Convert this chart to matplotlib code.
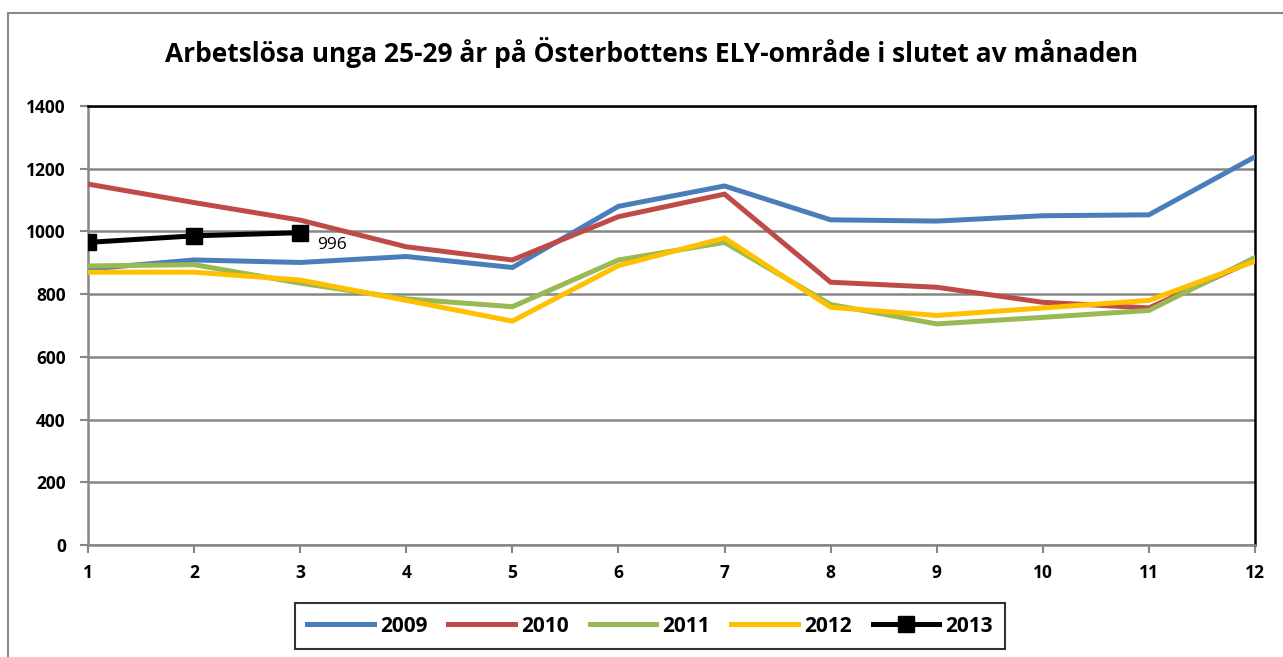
import matplotlib
matplotlib.use("Agg")
import matplotlib.pyplot as plt
from matplotlib.patches import Rectangle

months = list(range(1, 13))
s2009 = [880, 909, 901, 920, 885, 1080, 1145, 1037, 1033, 1050, 1053, 1238]
s2010 = [1151, 1092, 1036, 951, 909, 1047, 1119, 838, 822, 774, 756, 910]
s2011 = [890, 894, 835, 785, 760, 909, 965, 767, 705, 726, 748, 917]
s2012 = [870, 870, 845, 780, 714, 891, 979, 758, 732, 756, 780, 905]
s2013 = [965, 986, 996]
years = ["2009", "2010", "2011", "2012", "2013"]
colors = ["#4A7EBB", "#BE4B48", "#98B954", "#FFC000", "#000000"]
yticks = [0, 200, 400, 600, 800, 1000, 1200, 1400]

plt.rcParams['font.family'] = ['Open Sans', 'DejaVu Sans']

W, H = 1283, 657
fig = plt.figure(figsize=(W / 100, H / 100), dpi=100)
fig.patch.set_facecolor("white")

# outer chart border
fig.patches.append(Rectangle((8 / W, -0.05), 1.1, (657 - 13) / H + 0.05,
                             transform=fig.transFigure, fill=False,
                             edgecolor="#888888", linewidth=1.5))

L, R, T, B = 88, 1255, 106, 545
ax = fig.add_axes([L / W, 1 - B / H, (R - L) / W, (B - T) / H])

series = [s2009, s2010, s2011, s2012]
for vals, yr, c in zip(series, years[:4], colors[:4]):
    ax.plot(months, vals, color=c, lw=3.6, label=yr, solid_joinstyle="miter", zorder=3)
ax.plot(months[:3], s2013, color=colors[4], lw=3.6, marker="s", markersize=11,
        label=years[4], zorder=4)
ax.annotate(str(s2013[-1]), (months[2], s2013[-1]), xytext=(12, -12),
            textcoords="offset points", fontsize=12.5, family="Open Sans")

ax.set_xlim(1, 12)
ax.set_ylim(0, 1400)
ax.set_yticks(yticks)
ax.set_xticks(months)
ax.grid(axis="y", color="#868686", lw=1.8, zorder=1)
ax.set_axisbelow(True)
for s in ["top", "right"]:
    ax.spines[s].set_color("black")
    ax.spines[s].set_linewidth(1.8)
for s in ["left", "bottom"]:
    ax.spines[s].set_color("#868686")
    ax.spines[s].set_linewidth(1.8)
ax.tick_params(axis="both", direction="out", color="#868686", width=1.5, length=6,
               labelsize=12.5)
ax.tick_params(axis="x", pad=8)
ax.tick_params(axis="y", pad=10)
for lbl in ax.get_xticklabels() + ax.get_yticklabels():
    lbl.set_fontweight("bold")

fig.text(652 / W, 1 - 52 / H, "Arbetslösa unga 25-29 år på Österbottens ELY-område i slutet av månaden",
         ha="center", va="center", fontsize=19, fontweight="bold")

leg = fig.legend(loc="center", bbox_to_anchor=(650 / W, 1 - 626 / H), ncol=5,
                 frameon=True, fancybox=False, edgecolor="black",
                 prop={"weight": "bold", "size": 15}, handlelength=3.2,
                 columnspacing=1.0, handletextpad=0.3, borderpad=0.6)
leg.get_frame().set_linewidth(1.5)

fig.savefig("out.png", dpi=100)
